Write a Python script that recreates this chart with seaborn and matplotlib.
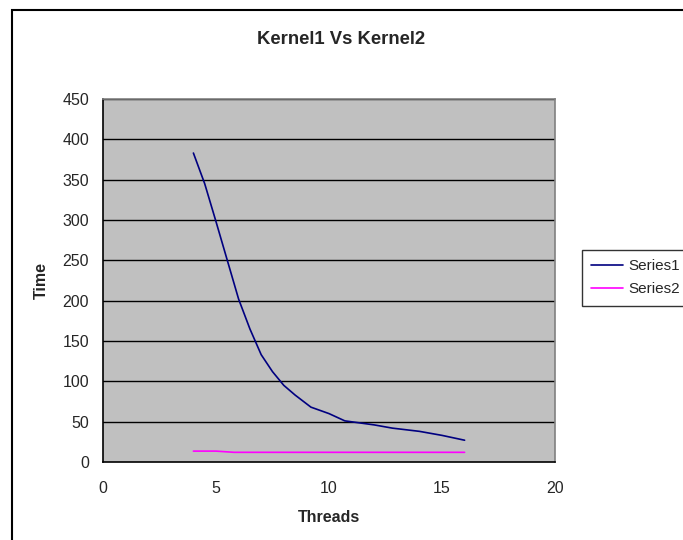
import matplotlib
matplotlib.use("Agg")
import matplotlib.pyplot as plt
import seaborn as sns
import pandas as pd
from matplotlib.patches import Rectangle

threads1 = [4, 4.5, 5, 5.5, 6, 6.5, 7, 7.5, 8, 8.5, 9.2, 10, 10.7, 12, 12.8, 14, 15, 16]
time1 = [383, 345, 298, 250, 202, 165, 133, 112, 95, 83, 68, 60, 51, 46, 42, 38, 33, 27]
threads2 = [4, 5, 5.8, 7, 8, 10, 12, 14, 16]
time2 = [13.5, 13.5, 12, 12, 12, 12, 12, 12, 12]

df = pd.concat([
    pd.DataFrame({"Threads": threads1, "Time": time1, "Series": "Series1"}),
    pd.DataFrame({"Threads": threads2, "Time": time2, "Series": "Series2"}),
])

sns.set_style("white")
plt.rcParams['font.family'] = ['Liberation Sans', 'DejaVu Sans']

fig = plt.figure(figsize=(6.83, 5.4), dpi=100)
ax = fig.add_axes([103/683, 1-462/540, (555-103)/683, (462-99)/540])
ax.set_facecolor("#C0C0C0")

sns.lineplot(data=df, x="Threads", y="Time", hue="Series",
             palette={"Series1": "#000080", "Series2": "#FF00FF"},
             sort=False, estimator=None, linewidth=1.2, ax=ax)

ax.set_xlim(0, 20)
ax.set_ylim(0, 450)
ax.set_xticks([0, 5, 10, 15, 20])
ax.set_yticks(range(0, 451, 50))
for yv in range(50, 451, 50):
    ax.axhline(yv, color="black", linewidth=1.0, zorder=1)
ax.tick_params(axis="both", direction="out", length=5, width=1, color="black",
               labelsize=11.5, pad=5)
ax.tick_params(axis="x", pad=9)
for s in ["left", "bottom"]:
    ax.spines[s].set_color("black")
    ax.spines[s].set_linewidth(1.2)
for s in ["top", "right"]:
    ax.spines[s].set_color("#808080")
    ax.spines[s].set_linewidth(1.2)

ax.set_xlabel("Threads", fontsize=11.5, fontweight="bold", labelpad=10)
ax.set_ylabel("Time", fontsize=11.5, fontweight="bold", labelpad=10)
fig.text(341/683, 1-40/540, "Kernel1 Vs Kernel2", ha="center", va="center",
         fontsize=13.3, fontweight="bold")

handles, labels = ax.get_legend_handles_labels()
ax.legend(handles, labels, loc="upper left",
          bbox_to_anchor=((582-103)/(555-103), (462-250)/(462-99)),
          frameon=True, fancybox=False, edgecolor="black", fontsize=11,
          handlelength=2.1, borderpad=0.6, labelspacing=0.6, handletextpad=0.35,
          borderaxespad=0)
leg = ax.get_legend()
leg.get_frame().set_linewidth(1.0)
leg.set_clip_on(False)

fig.patches.append(Rectangle((12/683, -0.1), 1.2, 1.1 - 10/540,
                             transform=fig.transFigure, fill=False,
                             edgecolor="black", linewidth=1.5))

fig.savefig("out.png", dpi=100)
